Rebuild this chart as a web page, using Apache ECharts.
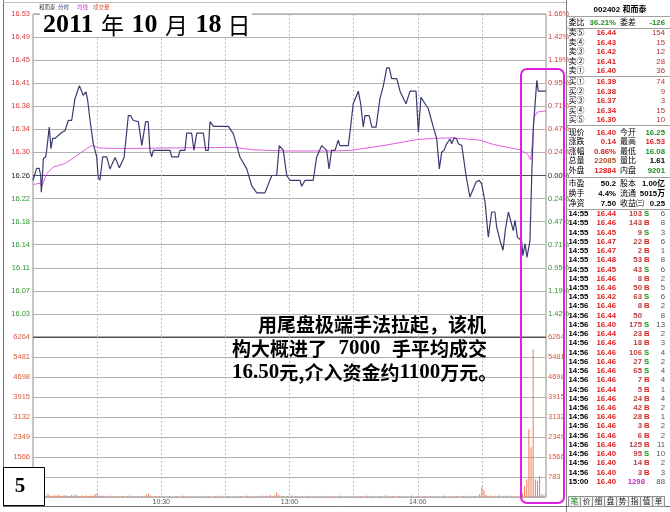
<!DOCTYPE html>
<html><head><meta charset="utf-8">
<script src="https://cdn.jsdelivr.net/npm/echarts@6/dist/echarts.min.js"></script>
<style>html,body{margin:0;padding:0;background:#fff}#c{width:670px;height:512px}</style>
</head><body><div id="c"></div>
<script>
// ---------- data ----------
const prevClose = 16.26;
const priceMin = 15.99, priceMax = 16.53;
const priceTicks = ['', '16.03','16.07','16.11','16.14','16.18','16.22','16.26','16.30','16.34','16.38','16.41','16.45','16.49','16.53'];
const pctTicks   = ['', '1.42%','1.19%','0.95%','0.71%','0.47%','0.24%','0.00%','0.24%','0.47%','0.71%','0.95%','1.19%','1.42%','1.66%'];
const volMax = 6264, volStep = 783;
const timeLabels = {60:'10:30', 120:'13:00', 180:'14:00'};

// [minute from 9:30, price]
const priceLine = [[0,16.252],[1.7,16.272],[2.9,16.272],[3.6,16.26],[3.9,16.232],[4.5,16.263],[4.8,16.288],[5.9,16.291],[6.4,16.302],[7.6,16.341],[8.4,16.305],[9.2,16.322],[10.3,16.322],[13.4,16.332],[15,16.335],[16.5,16.352],[18.1,16.352],[19.6,16.388],[21.7,16.41],[23.5,16.394],[24.8,16.4],[25.6,16.385],[26.7,16.352],[28.2,16.313],[29.8,16.291],[30.5,16.257],[31.3,16.252],[32.6,16.291],[34.5,16.291],[36,16.271],[38.4,16.29],[40.4,16.273],[42.6,16.29],[43.5,16.288],[44.6,16.36],[45.7,16.36],[46.9,16.352],[49.3,16.35],[50.9,16.31],[51.7,16.31],[52.7,16.35],[53.9,16.35],[54.7,16.302],[55.5,16.291],[56.3,16.302],[64.1,16.302],[64.9,16.291],[68,16.291],[68.8,16.302],[71.1,16.302],[71.9,16.331],[74.2,16.331],[75.3,16.302],[76.6,16.331],[79.7,16.331],[80.8,16.302],[82,16.302],[82.8,16.35],[84.4,16.342],[91.4,16.342],[93.7,16.33],[96.8,16.291],[100,16.271],[102.3,16.243],[104.7,16.231],[108.5,16.231],[111.7,16.26],[114,16.26],[115.2,16.31],[117.1,16.302],[118.7,16.26],[120.2,16.252],[124.9,16.252],[125.7,16.242],[127.3,16.252],[131.1,16.252],[132.7,16.291],[135.1,16.31],[137.4,16.302],[138.5,16.271],[139.7,16.302],[141.3,16.302],[142.8,16.319],[143.6,16.31],[147.5,16.31],[148.6,16.341],[149.8,16.38],[152.2,16.401],[153.3,16.38],[154.5,16.341],[155.3,16.36],[157.3,16.36],[158.5,16.341],[160.5,16.341],[162.3,16.388],[163.9,16.41],[165.5,16.44],[166.7,16.44],[167.8,16.422],[170.2,16.422],[171.7,16.401],[174.5,16.38],[176.4,16.401],[179.2,16.401],[180.3,16.332],[181.5,16.391],[183.4,16.38],[184.9,16.372],[187.3,16.341],[188.9,16.321],[190.1,16.271],[191.2,16.299],[192.3,16.302],[193.5,16.313],[195.1,16.321],[195.9,16.313],[197,16.323],[198.2,16.321],[199,16.313],[200.6,16.31],[202.6,16.26],[204.4,16.224],[206,16.238],[207.3,16.249],[208.8,16.252],[209.9,16.246],[211.5,16.215],[213,16.157],[214.6,16.199],[216.1,16.199],[216.9,16.174],[218.5,16.151],[219.9,16.135],[221,16.17],[222.4,16.199],[223.2,16.199],[224.7,16.168],[225.5,16.185],[226.6,16.157],[228.6,16.151],[229.2,16.126],[230.2,16.146],[231.1,16.123],[232.5,16.151],[233.3,16.257],[234.1,16.341],[235.7,16.419],[236.4,16.401],[240,16.401]];

const avgLine = [[0,16.245],[3.3,16.247],[4.1,16.242],[6.4,16.263],[9.5,16.274],[15,16.28],[19.6,16.291],[25.1,16.305],[27.5,16.31],[31.3,16.306],[40.7,16.305],[62.5,16.306],[93.7,16.307],[103.1,16.303],[109.3,16.302],[118.7,16.301],[140.5,16.301],[148.3,16.302],[163.9,16.31],[179.5,16.32],[187.3,16.322],[196.6,16.323],[209.1,16.319],[215.3,16.312],[227.8,16.303],[231.3,16.296],[232.8,16.286],[233.6,16.313],[234.4,16.357],[235.9,16.366],[240,16.368]];

// [minute, volume in lots]
const volData = [[0,180],[1,60],[2,90],[3,40],[4,110],[5,70],[6,50],[7,130],[8,60],[9,40],[10,80],[11,50],[12,90],[13,40],[14,60],[15,70],[16,50],[17,40],[18,80],[19,60],[20,100],[21,50],[22,40],[23,60],[24,30],[25,70],[26,40],[27,60],[28,50],[29,120],[30,150],[31,60],[32,40],[33,50],[35,30],[36,60],[38,40],[40,30],[42,50],[44,40],[45,60],[47,30],[49,40],[51,50],[53,90],[54,140],[55,60],[57,40],[59,30],[61,50],[64,40],[67,30],[70,60],[73,40],[76,30],[79,50],[82,40],[85,30],[88,60],[91,40],[94,50],[97,40],[100,60],[103,50],[105,40],[107,60],[109,50],[111,90],[113,60],[114,170],[115,80],[117,40],[119,50],[121,60],[123,40],[126,30],[129,50],[132,40],[135,30],[138,50],[141,40],[144,60],[147,30],[150,50],[153,40],[156,60],[159,50],[162,40],[165,70],[168,40],[171,50],[174,30],[177,60],[180,40],[183,50],[186,30],[189,40],[192,60],[195,30],[198,50],[201,40],[204,60],[207,50],[209,120],[210,400],[211,260],[212,80],[214,60],[216,50],[218,70],[220,40],[222,60],[224,50],[226,40],[228,80],[229,150],[230,430],[231,690],[232,2650],[233,1950],[234,5780],[235,690],[236,630],[237,820],[238,120],[239,90]];

// right-hand quote panel
const stockHeader = '002402 和而泰';
const ratioRow = ['委比','36.21%','委差','-126'];
const askRows = [['卖⑤','16.44','154'],['卖④','16.43','15'],['卖③','16.42','12'],['卖②','16.41','28'],['卖①','16.40','36']];
const bidRows = [['买①','16.39','74'],['买②','16.38','9'],['买③','16.37','3'],['买④','16.34','15'],['买⑤','16.30','10']];
const quoteRows = [['现价','16.40','今开','16.25'],['涨跌','0.14','最高','16.53'],['涨幅','0.86%','最低','16.08'],['总量','22085','量比','1.61'],['外盘','12884','内盘','9201']];
const finRows = [['市盈','50.2','股本','1.00亿'],['换手','4.4%','流通','5015万'],['净资','7.50','收益㈢','0.25']];
const trades = [['14:55','16.44','103','S','6'],['14:55','16.46','143','B','8'],['14:55','16.45','9','S','3'],['14:55','16.47','22','B','6'],['14:55','16.47','2','B','1'],['14:55','16.48','53','B','8'],['14:55','16.45','43','S','6'],['14:55','16.46','8','B','2'],['14:55','16.46','50','B','5'],['14:55','16.42','63','S','6'],['14:56','16.46','8','B','2'],['14:56','16.44','50','','8'],['14:56','16.40','175','S','13'],['14:56','16.44','23','B','2'],['14:56','16.46','18','B','3'],['14:56','16.46','106','S','4'],['14:56','16.46','27','S','2'],['14:56','16.46','65','S','4'],['14:56','16.46','7','B','4'],['14:56','16.44','5','B','1'],['14:56','16.46','24','B','4'],['14:56','16.46','42','B','2'],['14:56','16.46','28','B','1'],['14:56','16.46','3','B','2'],['14:56','16.46','6','B','2'],['14:56','16.46','125','B','11'],['14:56','16.40','95','S','10'],['14:56','16.40','14','B','2'],['14:56','16.40','3','B','3'],['15:00','16.40','1298','','88']];
const tabs = ['笔','价','细','盘','势','指','值','单'];
const titleParts = ['2011','年','10','月','18','日'];
const noteLine1 = '用尾盘极端手法拉起，该机';
const noteLine2 = ['构大概进了','7000','手平均成交'];
const noteLine3 = ['16.50','元,介入资金约','1100','万元。'];
const pageNo = '5';
const headerTabs = ['和而泰','分时','均线','成交量'];

// ---------- styles ----------
const RED = '#d83c3c', GREEN = '#2f962f', GRID = '#b2b2b2';
const SANS = '"Liberation Sans","Noto Sans CJK SC"';
const quoteColors = [['#e02020','#1a901a'],['#e02020','#e02020'],['#e02020','#1a901a'],['#b0502a','#000'],['#e02020','#1a901a']];

function T(x, y, text, fill, size, weight, align, family) {
  return {type:'text', silent:true, z:20, style:{x:x, y:y, text:text, fill:fill||'#000',
    font:(weight||'normal')+' '+(size||7)+'px '+(family||SANS), align:align||'left', verticalAlign:'middle'}};
}
function L(x1,y1,x2,y2,c,w){ return {type:'line', silent:true, z:15, shape:{x1:x1,y1:y1,x2:x2,y2:y2}, style:{stroke:c||'#999', lineWidth:w||1}}; }
function R(x, y, text, rich){ return {type:'text', silent:true, z:20, style:{x:x, y:y, verticalAlign:'middle', text:text, rich:rich, fontSize:19, fontFamily:'Liberation Serif'}}; }

const g = [];
// frame
g.push(L(3.5,0,3.5,506.5,'#707070'));
g.push(L(3,506.5,670,506.5,'#707070'));
g.push(L(3,2.5,566,2.5,'#bdbdbd'));
g.push(L(566.5,0,566.5,512,'#808080'));
// header small tabs
const htColors = ['#333','#30308a','#d040d0','#e05030'];
const htX = [39,58,77,93];
headerTabs.forEach((t,i)=>g.push(T(htX[i],7.5,t,htColors[i],5.5)));
// title
g.push({type:'rect', silent:true, z:18, shape:{x:40,y:13,width:212,height:24}, style:{fill:'#fff'}});
const titleRich = {d:{fontSize:26,fontWeight:'bold',fontFamily:'Liberation Serif',fill:'#000'},
  c:{fontSize:23,fontWeight:'normal',fontFamily:'Noto Sans CJK SC',fill:'#000'},
  s:{fontSize:30,fontFamily:'Liberation Serif'}, t:{fontSize:24,fontFamily:'Liberation Serif'}};
g.push(R(43,25,'{d|'+titleParts[0]+'}{s| }{c|'+titleParts[1]+'}{s| }{d|'+titleParts[2]+'}{s| }{c|'+titleParts[3]+'}{s| }{d|'+titleParts[4]+'}{t| }{c|'+titleParts[5]+'}', titleRich));
// annotation
const noteRich = {n:{fontSize:21,fontWeight:'bold',fontFamily:'Liberation Serif',fill:'#000'},
  c:{fontSize:19,fontWeight:'bold',fontFamily:'Noto Sans CJK SC',fill:'#000'},
  s:{fontSize:23,fontFamily:'Liberation Serif'}};
g.push(R(258,325,'{c|'+noteLine1+'}',noteRich));
g.push(R(232,349,'{c|'+noteLine2[0]+'}{s|  }{n|'+noteLine2[1]+'}{s|  }{c|'+noteLine2[2]+'}',noteRich));
g.push(R(232,373,'{n|'+noteLine3[0]+'}{c|'+noteLine3[1]+'}{n|'+noteLine3[2]+'}{c|'+noteLine3[3]+'}',noteRich));
// page number box
g.push({type:'rect', silent:true, z:18, shape:{x:3.5,y:467.5,width:41,height:38}, style:{fill:'#fff',stroke:'#000',lineWidth:1}});
g.push(T(20,487,pageNo,'#000',21,'bold','center','"Liberation Serif"'));
// highlight box
g.push({type:'rect', silent:true, z:19, shape:{x:521,y:69,width:43,height:434,r:6}, style:{fill:'none',stroke:'#e020e0',lineWidth:2}});

// right panel
const cL = 568.5, cV = 616, cM = 620, cR = 665;
const FS = 8, FN = 7.8;
g.push(T(620,10,stockHeader,'#000',8,'bold','center'));
g.push(L(566,16.5,670,16.5,'#a0a0a0'));
g.push(T(cL,22.5,ratioRow[0],'#000',FS));
g.push(T(cV,22.5,ratioRow[1],'#1a901a',FN,'bold','right'));
g.push(T(cM,22.5,ratioRow[2],'#000',FS));
g.push(T(cR,22.5,ratioRow[3],'#1a901a',FN,'bold','right'));
g.push(L(566,28.5,670,28.5,'#a0a0a0'));
const askY = [33,42.5,52,61.5,71], bidY = [82,91.5,101,110.5,120];
askRows.forEach((r,i)=>{ g.push(T(cL,askY[i],r[0],'#000',FS)); g.push(T(cV,askY[i],r[1],'#e02020',FN,'bold','right')); g.push(T(cR,askY[i],r[2],'#b03030',FN,'normal','right')); });
g.push(L(566,76.5,670,76.5,'#a0a0a0'));
bidRows.forEach((r,i)=>{ g.push(T(cL,bidY[i],r[0],'#000',FS)); g.push(T(cV,bidY[i],r[1],'#e02020',FN,'bold','right')); g.push(T(cR,bidY[i],r[2],'#b03030',FN,'normal','right')); });
g.push(L(566,125.5,670,125.5,'#a0a0a0'));
const qY = [132.5,142,151.5,161,170.5];
quoteRows.forEach((r,i)=>{ g.push(T(cL,qY[i],r[0],'#000',FS)); g.push(T(cV,qY[i],r[1],quoteColors[i][0],FN,'bold','right')); g.push(T(cM,qY[i],r[2],'#000',FS)); g.push(T(cR,qY[i],r[3],quoteColors[i][1],FN,'bold','right')); });
g.push(L(566,177.5,670,177.5,'#a0a0a0'));
const fY = [184,194,203.5];
finRows.forEach((r,i)=>{ g.push(T(cL,fY[i],r[0],'#000',FS)); g.push(T(cV,fY[i],r[1],'#000',FN,'bold','right')); g.push(T(cM,fY[i],r[2],'#000',FS)); g.push(T(cR,fY[i],r[3],'#000',FN,'bold','right')); });
g.push(L(566,209.5,670,209.5,'#a0a0a0'));
trades.forEach((r,i)=>{
  const y = 214 + i*9.23;
  g.push(T(cL,y,r[0],'#000',FN,'bold'));
  g.push(T(cV,y,r[1],'#e02020',FN,'bold','right'));
  const big = r[0]==='15:00';
  g.push(T(big?645:642,y,r[2],big?'#c030c0':'#c04040',FN,'bold','right'));
  if (r[3]) g.push(T(644,y,r[3],r[3]==='S'?'#1a901a':'#e02020',FN,'bold'));
  g.push(T(cR,y,r[4],'#555',FN,'normal','right'));
});
tabs.forEach((t,i)=>{
  g.push({type:'rect', silent:true, z:15, shape:{x:568.5+i*12,y:496.5,width:12,height:10}, style:{fill:i===0?'#e8f0e8':'#f2f2f2',stroke:'#909090',lineWidth:1}});
  g.push(T(574.5+i*12,501.5,t,i===0?'#2a8a2a':'#222',7.5,'normal','center'));
});

// ---------- chart ----------
const chart = echarts.init(document.getElementById('c'));
const priceSplit = priceTicks.map((t,i)=> (i===0||i===7) ? '#505050' : GRID);
const volSplit = [GRID,GRID,GRID,GRID,GRID,GRID,GRID,GRID,'#505050'];
const lblFont = {fontSize:7.5, fontFamily:'Liberation Sans'};
function pctColor(v){ v=Number(v); return v>7?RED:(v<7?GREEN:'#222'); }

chart.setOption({
  animation:false,
  backgroundColor:'#fff',
  grid:[
    {left:33, right:124, top:14, height:323, show:true, borderColor:'#8c8c8c', borderWidth:1},
    {left:33, right:124, top:337, height:160, show:true, borderColor:'#8c8c8c', borderWidth:1}
  ],
  xAxis:[
    {gridIndex:0, type:'value', min:0, max:240, interval:30, axisLine:{show:false}, axisTick:{show:false}, axisLabel:{show:false},
     splitLine:{show:true, showMinLine:false, showMaxLine:false, lineStyle:{color:'#bdbdbd', type:[2,2]}}},
    {gridIndex:1, type:'value', min:0, max:240, interval:30, axisLine:{show:false}, axisTick:{show:false},
     axisLabel:{color:'#555', margin:2, fontSize:7, fontFamily:'Liberation Sans', formatter:v=>timeLabels[v]||''},
     splitLine:{show:true, showMinLine:false, showMaxLine:false, lineStyle:{color:'#bdbdbd', type:[2,2]}}}
  ],
  yAxis:[
    {gridIndex:0, type:'value', min:priceMin, max:priceMax, show:false},
    {gridIndex:0, type:'value', min:0, max:14, interval:1, position:'left', axisLine:{show:false}, axisTick:{show:false},
     axisLabel:Object.assign({margin:3, formatter:v=>priceTicks[v], color:pctColor}, lblFont),
     splitLine:{show:true, lineStyle:{color:priceSplit, width:1}}},
    {gridIndex:0, type:'value', min:0, max:14, interval:1, position:'right', axisLine:{show:false}, axisTick:{show:false},
     axisLabel:Object.assign({margin:2, formatter:v=>pctTicks[v], color:pctColor}, lblFont),
     splitLine:{show:false}},
    {gridIndex:1, type:'value', min:0, max:volMax, interval:volStep, position:'left', axisLine:{show:false}, axisTick:{show:false},
     axisLabel:Object.assign({margin:3, color:'#d85a3a', formatter:v=>v===0?'':String(v)}, lblFont),
     splitLine:{show:true, lineStyle:{color:volSplit, width:1}}},
    {gridIndex:1, type:'value', min:0, max:volMax, interval:volStep, position:'right', axisLine:{show:false}, axisTick:{show:false},
     axisLabel:Object.assign({margin:2, color:'#d85a3a', formatter:v=>v===0?'':String(v)}, lblFont),
     splitLine:{show:false}}
  ],
  series:[
    {type:'line', name:'均线', xAxisIndex:0, yAxisIndex:0, data:avgLine, showSymbol:false, silent:true, z:3,
     lineStyle:{color:'#e060e0', width:1}},
    {type:'line', name:'分时', xAxisIndex:0, yAxisIndex:0, data:priceLine, showSymbol:false, silent:true, z:4,
     lineStyle:{color:'#3a3a72', width:1.2}},
    {type:'bar', name:'成交量', xAxisIndex:1, yAxisIndex:3, data:volData, barWidth:1, silent:true,
     itemStyle:{color:'#ee7a55'}}
  ],
  graphic:g
});
</script>
</body></html>
